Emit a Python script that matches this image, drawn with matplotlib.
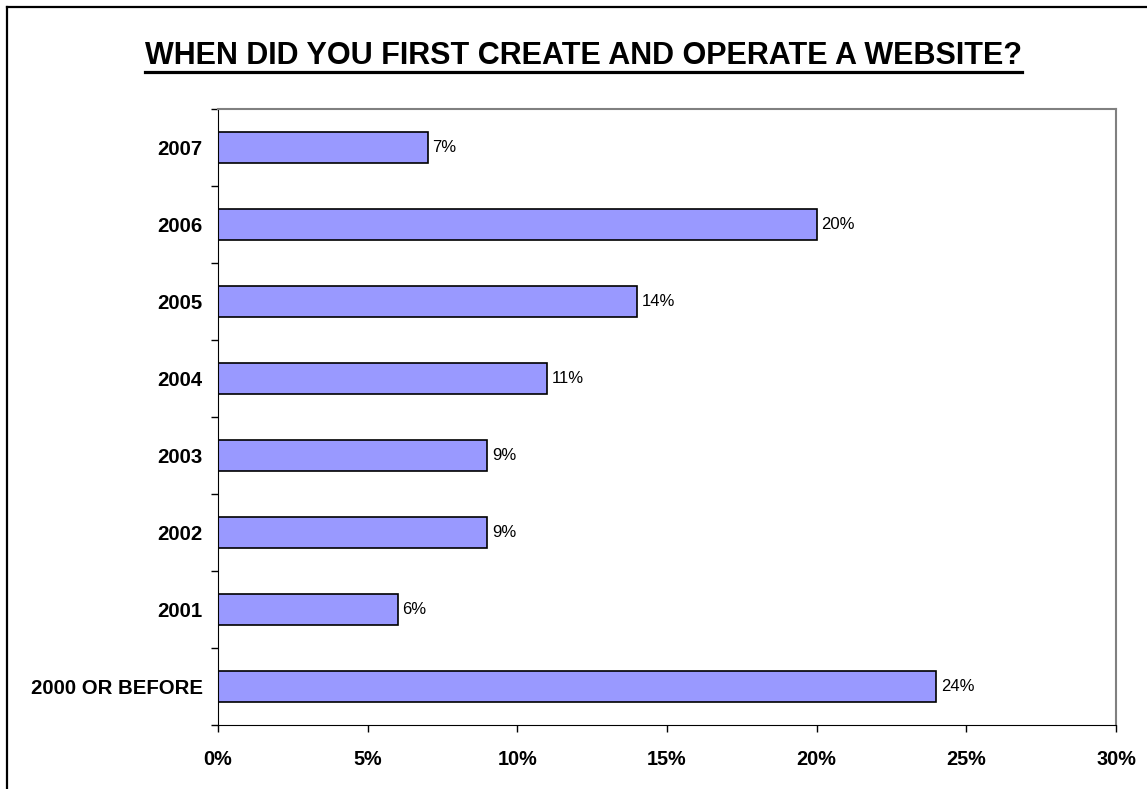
import matplotlib
matplotlib.use('Agg')
import matplotlib.pyplot as plt
from matplotlib.lines import Line2D

plt.rcParams['font.family'] = ['Liberation Sans', 'DejaVu Sans']

years = ['2000 OR BEFORE', '2001', '2002', '2003', '2004', '2005', '2006', '2007']
percents = [24, 6, 9, 9, 11, 14, 20, 7]
xticks = [0, 5, 10, 15, 20, 25, 30]

fig = plt.figure(figsize=(11.47, 7.89), dpi=100)
ax = fig.add_axes([218/1147, 1-725/789, (1116-218)/1147, (725-109)/789])

pos = list(range(len(years)))
bars = ax.barh(pos, percents, height=0.4, color='#9999FF', edgecolor='black', linewidth=1.2)

ax.set_xlim(0, 30)
ax.set_ylim(-0.5, len(years)-0.5)
ax.set_xticks(xticks)
ax.set_xticklabels(['%d%%' % v for v in xticks], fontsize=14.3, fontweight='bold')
ax.tick_params(axis='x', direction='out', length=5, width=1, pad=13)

# category labels on the major ticks, tick marks between categories
ax.set_yticks(pos)
ax.set_yticklabels(years, fontsize=14.7, fontweight='bold')
ax.tick_params(axis='y', which='major', length=0, pad=11)
ax.set_yticks([p - 0.5 for p in pos] + [len(years) - 0.5], minor=True)
ax.tick_params(axis='y', which='minor', direction='out', length=5, width=1)

for side in ['top', 'right']:
    ax.spines[side].set_color('#808080')
    ax.spines[side].set_linewidth(1.5)
ax.spines['left'].set_color('black')
ax.spines['bottom'].set_color('black')

for rect, v in zip(bars, percents):
    ax.text(rect.get_width() + 0.15, rect.get_y() + rect.get_height()/2,
            '%d%%' % v, fontsize=12, va='center', ha='left')

title = fig.text(0.5087, 1-64/789, 'WHEN DID YOU FIRST CREATE AND OPERATE A WEBSITE?',
                 fontsize=22, fontweight='bold', ha='center', va='baseline')

# underline the title
fig.canvas.draw()
bb = title.get_window_extent()
W, H = fig.get_size_inches() * fig.dpi
uy = (bb.y0 - 1) / H
fig.add_artist(Line2D([bb.x0/W, bb.x1/W], [uy, uy], color='black', linewidth=2.3,
                      transform=fig.transFigure))

# chart frame
fig.add_artist(Line2D([7.5/W, 7.5/W], [0, 1-6.5/H], color='black', linewidth=1.6,
                      transform=fig.transFigure))
fig.add_artist(Line2D([7.5/W, 1], [1-6.5/H, 1-6.5/H], color='black', linewidth=1.6,
                      transform=fig.transFigure))

fig.savefig('out.png', dpi=100)
